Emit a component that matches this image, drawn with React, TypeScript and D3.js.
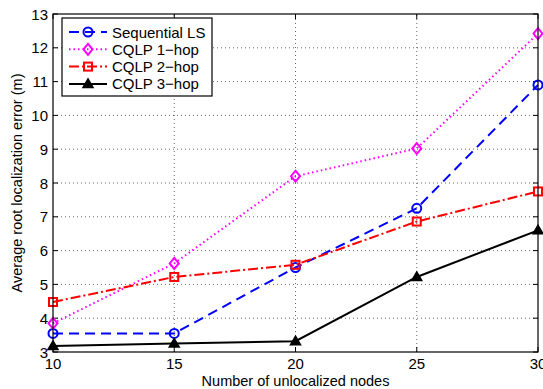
import React from 'react';
import * as d3 from 'd3';

// x positions (number of unlocalized nodes)
const nodes = [10, 15, 20, 25, 30];
// average root localization error (m)
const seqLS = [3.55, 3.55, 5.5, 7.25, 10.9];
const cqlp1 = [3.85, 5.62, 8.2, 9.02, 12.42];
const cqlp2 = [4.48, 5.22, 5.58, 6.86, 7.75];
const cqlp3 = [3.18, 3.25, 3.32, 5.22, 6.6];
const xTicks = [10, 15, 20, 25, 30];
const yTicks = [3, 4, 5, 6, 7, 8, 9, 10, 11, 12, 13];
const seriesNames = ['Sequential LS', 'CQLP 1\u2212hop', 'CQLP 2\u2212hop', 'CQLP 3\u2212hop'];

const W = 543, H = 389;
const margin = { left: 53, right: 5, top: 14, bottom: 37 };

type Marker = 'circle' | 'diamond' | 'square' | 'triangle';

const series: { name: string; vals: number[]; color: string; dash: string; marker: Marker }[] = [
  { name: seriesNames[0], vals: seqLS, color: '#0000ff', dash: '10,6', marker: 'circle' },
  { name: seriesNames[1], vals: cqlp1, color: '#ff00ff', dash: '1.5,3', marker: 'diamond' },
  { name: seriesNames[2], vals: cqlp2, color: '#ff0000', dash: '10,3,2,3', marker: 'square' },
  { name: seriesNames[3], vals: cqlp3, color: '#000000', dash: 'none', marker: 'triangle' },
];

function drawMarker(m: Marker, x: number, y: number, color: string, key: string) {
  if (m === 'circle') return <circle key={key} cx={x} cy={y} r={4.5} fill="none" stroke={color} strokeWidth={2} />;
  if (m === 'square') return <rect key={key} x={x - 4} y={y - 4} width={8} height={8} fill="none" stroke={color} strokeWidth={2} />;
  if (m === 'diamond')
    return <path key={key} d={`M${x},${y - 5.5}L${x + 4.5},${y}L${x},${y + 5.5}L${x - 4.5},${y}Z`} fill="none" stroke={color} strokeWidth={2} />;
  return <path key={key} d={`M${x},${y - 5}L${x + 5},${y + 3.5}L${x - 5},${y + 3.5}Z`} fill={color} stroke={color} strokeWidth={1.5} strokeLinejoin="miter" />;
}

export default function App() {
  const x = d3.scaleLinear().domain([10, 30]).range([margin.left, W - margin.right]);
  const y = d3.scaleLinear().domain([3, 13]).range([H - margin.bottom, margin.top]);
  const line = d3.line<number>().x((_, i) => x(nodes[i])).y(d => y(d));
  const x0 = x(10), x1 = x(30), y0 = y(3), y1 = y(13);
  const font = 'Liberation Sans, Arial, Helvetica, sans-serif';

  return (
    <svg width={W} height={H} style={{ position: 'absolute', left: 0, top: 0 }} fontFamily={font}>
      <rect width={W} height={H} fill="#fff" />
      {/* grid */}
      {xTicks.slice(1, -1).map(t => (
        <line key={'gx' + t} x1={x(t)} x2={x(t)} y1={y0} y2={y1} stroke="#000" strokeWidth={0.6} strokeDasharray="1,3" />
      ))}
      {yTicks.slice(1, -1).map(t => (
        <line key={'gy' + t} x1={x0} x2={x1} y1={y(t)} y2={y(t)} stroke="#000" strokeWidth={0.6} strokeDasharray="1,3" />
      ))}
      {/* ticks */}
      {xTicks.map(t => (
        <g key={'tx' + t}>
          <line x1={x(t)} x2={x(t)} y1={y0} y2={y0 - 5} stroke="#000" />
          <line x1={x(t)} x2={x(t)} y1={y1} y2={y1 + 5} stroke="#000" />
          <text x={x(t)} y={y0 + 17} textAnchor="middle" fontSize={15}>{t}</text>
        </g>
      ))}
      {yTicks.map(t => (
        <g key={'ty' + t}>
          <line x1={x0} x2={x0 + 5} y1={y(t)} y2={y(t)} stroke="#000" />
          <line x1={x1} x2={x1 - 5} y1={y(t)} y2={y(t)} stroke="#000" />
          <text x={x0 - 5} y={y(t) + 5.5} textAnchor="end" fontSize={15}>{t}</text>
        </g>
      ))}
      {/* data */}
      {series.map(s => (
        <g key={s.name}>
          <path d={line(s.vals) || ''} fill="none" stroke={s.color} strokeWidth={2} strokeDasharray={s.dash} />
          {s.vals.map((v, i) => drawMarker(s.marker, x(nodes[i]), y(v), s.color, s.name + i))}
        </g>
      ))}
      <rect x={x0} y={y1} width={x1 - x0} height={y0 - y1} fill="none" stroke="#000" strokeWidth={1.2} />
      {/* legend */}
      <rect x={62} y={18} width={150} height={78} fill="#fff" stroke="#000" strokeWidth={1.2} />
      {series.map((s, i) => {
        const ly = 32 + i * 17.3;
        return (
          <g key={'lg' + s.name}>
            <line x1={69} x2={107} y1={ly} y2={ly} stroke={s.color} strokeWidth={2} strokeDasharray={s.dash} />
            {drawMarker(s.marker, 88, ly, s.color, 'lm' + i)}
            <text x={112} y={ly + 5.5} fontSize={15}>{s.name}</text>
          </g>
        );
      })}
      {/* axis titles */}
      <text x={(x0 + x1) / 2} y={386} textAnchor="middle" fontSize={14.5}>Number of unlocalized nodes</text>
      <text transform={`translate(22,${(y0 + y1) / 2}) rotate(-90)`} textAnchor="middle" fontSize={14.5}>
        Average root localization error (m)
      </text>
    </svg>
  );
}
